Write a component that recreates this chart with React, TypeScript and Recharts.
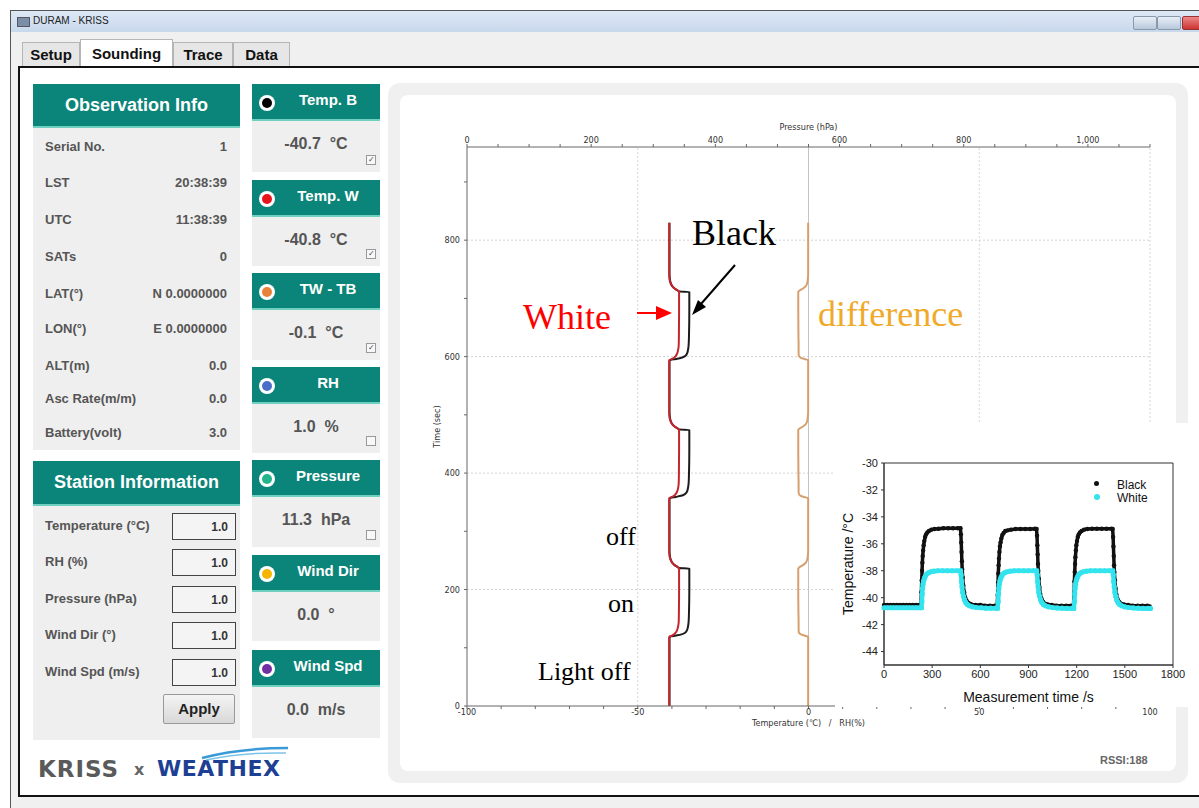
import React from 'react';
import {
  LineChart,
  Line,
  XAxis,
  YAxis,
  ReferenceLine,
  ScatterChart,
  Scatter,
  ReferenceArea,
} from 'recharts';

// ---- main sounding trace (time runs up the vertical axis) ----
const timeSec = [
  0,
  117, 119, 121, 123, 126, 130, 136, 145, 160, 200, 236, 237, 239, 242, 246, 251, 258, 268, 280,
  355, 357, 359, 361, 364, 368, 374, 383, 398, 440, 474, 475, 477, 480, 484, 489, 496, 506, 518,
  592, 594, 596, 598, 601, 605, 611, 620, 635, 680, 711, 712, 714, 717, 721, 726, 733, 743, 755,
  830,
];
const tempBlack = [
  -40.7,
  -40.7, -40.6, -38.8, -37.2, -36.1, -35.6, -35.3, -35.1, -35.0, -34.9, -34.9, -37.9, -38.4, -39.2, -39.9, -40.3, -40.6, -40.7, -40.7,
  -40.7, -40.6, -38.9, -37.3, -36.2, -35.6, -35.3, -35.1, -35.0, -34.9, -34.9, -37.9, -38.4, -39.2, -39.9, -40.3, -40.6, -40.7, -40.7,
  -40.7, -40.6, -38.8, -37.2, -36.1, -35.6, -35.3, -35.1, -35.0, -34.9, -34.9, -37.9, -38.4, -39.2, -39.9, -40.3, -40.6, -40.7, -40.7,
  -40.7,
];
const tempWhite = [
  -40.8,
  -40.8, -40.7, -40.0, -39.4, -38.9, -38.5, -38.2, -38.0, -37.95, -37.9, -37.9, -38.0, -38.4, -39.2, -39.9, -40.4, -40.7, -40.8, -40.8,
  -40.8, -40.7, -40.0, -39.4, -38.9, -38.5, -38.2, -38.0, -37.95, -37.9, -37.9, -38.0, -38.4, -39.2, -39.9, -40.4, -40.7, -40.8, -40.8,
  -40.8, -40.7, -40.0, -39.4, -38.9, -38.5, -38.2, -38.0, -37.95, -37.9, -37.9, -38.0, -38.4, -39.2, -39.9, -40.4, -40.7, -40.8, -40.8,
  -40.8,
];
const tempDiff = [
  -0.1,
  -0.1, -0.1, -1.2, -2.2, -2.8, -2.9, -2.9, -2.9, -2.95, -3.0, -3.0, -2.9, -2.5, -1.6, -0.8, -0.4, -0.2, -0.1, -0.1,
  -0.1, -0.1, -1.3, -2.3, -2.8, -2.9, -2.9, -2.9, -2.95, -3.0, -3.0, -2.9, -2.5, -1.6, -0.8, -0.4, -0.2, -0.1, -0.1,
  -0.1, -0.1, -1.2, -2.2, -2.8, -2.9, -2.9, -2.9, -2.95, -3.0, -3.0, -2.9, -2.5, -1.6, -0.8, -0.4, -0.2, -0.1, -0.1,
  -0.1,
];

const tempTicks = [-100, -90, -80, -70, -60, -50, -40, -30, -20, -10, 0, 10, 20, 30, 40, 50, 60, 70, 80, 90, 100];
const tempLabels = [-100, -50, 0, 50, 100];
const pressureTicks = [0, 50, 100, 150, 200, 250, 300, 350, 400, 450, 500, 550, 600, 650, 700, 750, 800, 850, 900, 950, 1000, 1050, 1100];
const pressureLabels = [0, 200, 400, 600, 800, 1000];
const timeTicks = [0, 100, 200, 300, 400, 500, 600, 700, 800, 900];
const timeLabels = [0, 200, 400, 600, 800];

// ---- inset: step response of the black / white sensors ----
const blackInset = [
  [0, -40.55], [20, -40.55], [40, -40.55], [60, -40.55], [80, -40.55], [100, -40.55], [120, -40.55], [140, -40.55],
  [160, -40.55], [180, -40.55], [200, -40.55], [220, -40.55], [230, -40.5],
  [233, -39.6], [235, -38.7], [237, -38.0], [239, -37.4], [241, -36.9], [244, -36.5], [247, -36.1], [251, -35.8],
  [256, -35.5], [262, -35.3], [270, -35.15], [280, -35.05], [295, -34.95], [315, -34.9], [340, -34.88], [370, -34.85],
  [400, -34.85], [430, -34.85], [460, -34.85], [476, -34.85],
  [479, -35.3], [481, -35.9], [483, -36.6], [485, -37.3], [487, -37.9], [490, -38.5], [494, -39.1], [499, -39.6],
  [506, -40.0], [515, -40.25], [527, -40.4], [545, -40.5], [570, -40.55], [600, -40.55], [630, -40.6], [660, -40.6],
  [690, -40.6], [705, -40.6],
  [708, -39.8], [710, -38.9], [712, -38.2], [714, -37.6], [716, -37.1], [719, -36.6], [722, -36.2], [726, -35.9],
  [731, -35.6], [737, -35.35], [745, -35.2], [755, -35.05], [770, -35.0], [790, -34.95], [820, -34.9], [850, -34.9],
  [880, -34.9], [910, -34.9], [940, -34.88], [950, -34.9],
  [953, -35.4], [955, -36.1], [957, -36.8], [959, -37.5], [961, -38.0], [964, -38.6], [968, -39.2], [973, -39.7],
  [980, -40.05], [990, -40.3], [1003, -40.45], [1020, -40.5], [1045, -40.55], [1075, -40.6], [1105, -40.6],
  [1135, -40.6], [1165, -40.6], [1180, -40.6],
  [1184, -39.7], [1186, -38.8], [1188, -38.1], [1190, -37.5], [1192, -37.0], [1195, -36.5], [1198, -36.1],
  [1202, -35.8], [1207, -35.5], [1213, -35.3], [1221, -35.15], [1231, -35.05], [1246, -34.95], [1266, -34.9],
  [1296, -34.88], [1326, -34.88], [1356, -34.88], [1386, -34.88], [1416, -34.88], [1424, -34.9],
  [1427, -35.5], [1429, -36.2], [1431, -36.9], [1433, -37.6], [1435, -38.1], [1438, -38.7], [1442, -39.3],
  [1447, -39.75], [1454, -40.1], [1464, -40.3], [1477, -40.45], [1495, -40.5], [1520, -40.55], [1550, -40.6],
  [1580, -40.6], [1610, -40.6], [1640, -40.6], [1655, -40.65],
];
const whiteInset = [
  [0, -40.75], [20, -40.75], [40, -40.75], [60, -40.75], [80, -40.75], [100, -40.75], [120, -40.75], [140, -40.75],
  [160, -40.75], [180, -40.75], [200, -40.75], [220, -40.75], [233, -40.75],
  [236, -40.3], [238, -39.7], [240, -39.3], [243, -39.0], [247, -38.75], [252, -38.55], [258, -38.4], [266, -38.25],
  [276, -38.15], [290, -38.08], [310, -38.03], [335, -38.0], [365, -38.0], [395, -38.0], [425, -38.0], [455, -38.0],
  [477, -38.0],
  [480, -38.3], [483, -38.8], [486, -39.2], [490, -39.6], [495, -39.9], [501, -40.15], [509, -40.35], [519, -40.5],
  [532, -40.6], [550, -40.68], [575, -40.73], [605, -40.75], [635, -40.78], [665, -40.78], [695, -40.78], [707, -40.78],
  [711, -40.3], [713, -39.7], [715, -39.3], [718, -39.0], [722, -38.75], [727, -38.55], [733, -38.4], [741, -38.25],
  [751, -38.15], [765, -38.08], [785, -38.03], [810, -38.0], [840, -38.0], [870, -38.0], [900, -38.0], [930, -38.0],
  [951, -38.0],
  [954, -38.3], [957, -38.8], [960, -39.2], [964, -39.6], [969, -39.9], [975, -40.15], [983, -40.35], [993, -40.5],
  [1006, -40.6], [1024, -40.68], [1049, -40.73], [1079, -40.76], [1109, -40.78], [1139, -40.8], [1169, -40.8], [1182, -40.8],
  [1186, -40.3], [1188, -39.7], [1190, -39.3], [1193, -39.0], [1197, -38.75], [1202, -38.55], [1208, -38.4],
  [1216, -38.25], [1226, -38.15], [1240, -38.08], [1260, -38.03], [1285, -38.0], [1315, -38.0], [1345, -38.0],
  [1375, -38.0], [1405, -38.0], [1425, -38.0],
  [1428, -38.3], [1431, -38.8], [1434, -39.2], [1438, -39.6], [1443, -39.9], [1449, -40.15], [1457, -40.35],
  [1467, -40.5], [1480, -40.6], [1498, -40.68], [1523, -40.73], [1553, -40.76], [1583, -40.78], [1613, -40.8],
  [1643, -40.8], [1660, -40.8],
];
const insetTimeTicks = [0, 300, 600, 900, 1200, 1500, 1800];
const insetTempTicks = [-44, -42, -40, -38, -36, -34, -32, -30];

const TEAL = '#0b8479';
const PANEL = '#efefef';
const CYAN = '#33e3ee';
const UI_FONT = "'Liberation Sans', Arial, sans-serif";
const NARROW = "'Liberation Sans Narrow', 'DejaVu Sans Condensed', sans-serif";
const SERIF = "'Liberation Serif', 'Times New Roman', serif";
const NB = '\u00a0';

const traceRows = timeSec.map((t, i) => ({
  t,
  black: tempBlack[i],
  white: tempWhite[i],
  diff: tempDiff[i],
}));
const blackPts = blackInset.map(([t, v]) => ({ t, v }));
const whitePts = whiteInset.map(([t, v]) => ({ t, v }));

const abs = (left: number, top: number, extra: React.CSSProperties = {}): React.CSSProperties => ({
  position: 'absolute',
  left,
  top,
  ...extra,
});

const obsRows = [
  ['Serial No.', '1', 147],
  ['LST', '20:38:39', 183],
  ['UTC', '11:38:39', 220],
  ['SATs', '0', 257],
  ['LAT(°)', 'N 0.0000000', 294],
  ['LON(°)', 'E 0.0000000', 329],
  ['ALT(m)', '0.0', 366],
  ['Asc Rate(m/m)', '0.0', 399],
  ['Battery(volt)', '3.0', 433],
] as const;

const sensorCards = [
  { name: 'Temp. B', dot: '#000', top: 84, bottom: 172, value: '-40.7', unit: '°C', box: true, checked: true },
  { name: 'Temp. W', dot: '#e8141c', top: 180, bottom: 266, value: '-40.8', unit: '°C', box: true, checked: true },
  { name: 'TW - TB', dot: '#e8823a', top: 273, bottom: 360, value: '-0.1', unit: '°C', box: true, checked: true },
  { name: 'RH', dot: '#4a6fc8', top: 367, bottom: 453, value: '1.0', unit: '%', box: true, checked: false },
  { name: 'Pressure', dot: '#22b58a', top: 460, bottom: 547, value: '11.3', unit: 'hPa', box: true, checked: false },
  { name: 'Wind Dir', dot: '#f5b400', top: 555, bottom: 641, value: '0.0', unit: '°', box: false, checked: false },
  { name: 'Wind Spd', dot: '#7030a0', top: 650, bottom: 738, value: '0.0', unit: 'm/s', box: false, checked: false },
];

const stationRows = [
  ['Temperature (°C)', 526],
  ['RH (%)', 562],
  ['Pressure (hPa)', 599],
  ['Wind Dir (°)', 635],
  ['Wind Spd (m/s)', 672],
] as const;

function Header({ left, top, width, height, text, size }: { left: number; top: number; width: number; height: number; text: string; size: number }) {
  return (
    <div
      style={abs(left, top, {
        width,
        height,
        background: TEAL,
        borderBottom: '2px solid #6fd0bf',
        color: '#fff',
        fontWeight: 700,
        fontSize: size,
        display: 'flex',
        alignItems: 'center',
        justifyContent: 'center',
        boxSizing: 'border-box',
      })}
    >
      {text}
    </div>
  );
}

function SensorCard({ c }: { c: (typeof sensorCards)[number] }) {
  const headH = 37;
  return (
    <>
      <div style={abs(252, c.top, { width: 128, height: c.bottom - c.top, background: PANEL })} />
      <div
        style={abs(252, c.top, {
          width: 128,
          height: headH,
          background: TEAL,
          borderBottom: '2px solid #6fd0bf',
          boxSizing: 'border-box',
        })}
      >
        <div
          style={abs(7, 11, {
            width: 16,
            height: 16,
            borderRadius: 8,
            background: '#fff',
            display: 'flex',
            alignItems: 'center',
            justifyContent: 'center',
          })}
        >
          <div style={{ width: 10, height: 10, borderRadius: 5, background: c.dot }} />
        </div>
        <div style={abs(28, 7, { width: 96, textAlign: 'center', color: '#fff', fontWeight: 700, fontSize: 15 })}>
          {c.name}
        </div>
      </div>
      <div
        style={abs(252, c.top + headH + 14, {
          width: 128,
          textAlign: 'center',
          color: '#555',
          fontWeight: 700,
          fontSize: 16,
          whiteSpace: 'pre',
        })}
      >
        {c.value + '  ' + c.unit}
      </div>
      {c.box && (
        <div
          style={abs(366, c.bottom - 17, {
            width: 8,
            height: 8,
            border: '1px solid #999',
            background: '#f8f8f8',
            fontSize: 8,
            lineHeight: '8px',
            textAlign: 'center',
            color: '#446',
          })}
        >
          {c.checked ? '✓' : ''}
        </div>
      )}
    </>
  );
}

export default function App() {
  const tickStyle = { fontSize: 9, fill: '#333', fontFamily: NARROW };
  const insetTick = { fontSize: 11, fill: '#222', fontFamily: UI_FONT };
  return (
    <div style={abs(0, 0, { width: 1199, height: 808, background: '#fff', overflow: 'hidden', fontFamily: UI_FONT })}>
      {/* window chrome */}
      <div style={abs(10, 10, { width: 1189, height: 798, background: '#f0f0f0', borderLeft: '1px solid #555', borderTop: '1px solid #555' })} />
      <div style={abs(11, 11, { width: 1188, height: 21, background: 'linear-gradient(#dde8f5, #c8d8ec)' })} />
      <div style={abs(17, 17, { width: 11, height: 8, background: '#7a8ea8', border: '1px solid #556' })} />
      <div style={abs(33, 15, { fontSize: 10, color: '#222' })}>DURAM - KRISS</div>
      <div style={abs(1133, 16, { width: 22, height: 12, background: 'linear-gradient(#e8eef6,#b8c8dc)', border: '1px solid #8899aa', borderRadius: 2 })} />
      <div style={abs(1157, 16, { width: 22, height: 12, background: 'linear-gradient(#e8eef6,#b8c8dc)', border: '1px solid #8899aa', borderRadius: 2 })} />
      <div style={abs(1182, 16, { width: 22, height: 12, background: 'linear-gradient(#e88,#c33)', border: '1px solid #933', borderRadius: 2 })} />

      {/* tabs */}
      {[
        ['Setup', 22, 58, false],
        ['Sounding', 80, 93, true],
        ['Trace', 173, 60, false],
        ['Data', 233, 57, false],
      ].map(([label, x, w, sel]) => (
        <div
          key={label as string}
          style={abs(x as number, sel ? 39 : 42, {
            width: w as number,
            height: sel ? 28 : 25,
            background: sel ? '#fff' : '#e6e6e6',
            border: '1px solid #b5b5b5',
            borderBottom: 'none',
            boxSizing: 'border-box',
            fontWeight: 700,
            fontSize: 15,
            color: '#111',
            textAlign: 'center',
            paddingTop: sel ? 5 : 3,
          })}
        >
          {label as string}
        </div>
      ))}

      {/* content frame */}
      <div style={abs(18, 66, { width: 1190, height: 731, background: '#fff', border: '2px solid #111', boxSizing: 'border-box' })} />

      {/* observation info */}
      <div style={abs(33, 84, { width: 207, height: 366, background: PANEL })} />
      <Header left={33} top={84} width={207} height={44} text="Observation Info" size={18} />
      {obsRows.map(([label, value, y]) => (
        <React.Fragment key={label}>
          <div style={abs(45, y - 8, { fontSize: 13, fontWeight: 700, color: '#555' })}>{label}</div>
          <div style={abs(120, y - 8, { width: 107, textAlign: 'right', fontSize: 13, fontWeight: 700, color: '#555' })}>{value}</div>
        </React.Fragment>
      ))}

      {/* station information */}
      <div style={abs(33, 461, { width: 207, height: 279, background: PANEL })} />
      <Header left={33} top={461} width={207} height={45} text="Station Information" size={18} />
      {stationRows.map(([label, y]) => (
        <React.Fragment key={label}>
          <div style={abs(45, y - 8, { fontSize: 13, fontWeight: 700, color: '#555' })}>{label}</div>
          <div
            style={abs(172, y - 13, {
              width: 64,
              height: 27,
              background: '#f4f4f4',
              border: '1px solid #444',
              boxSizing: 'border-box',
              fontSize: 12,
              fontWeight: 700,
              color: '#333',
              textAlign: 'right',
              padding: '6px 7px 0 0',
            })}
          >
            1.0
          </div>
        </React.Fragment>
      ))}
      <div
        style={abs(163, 694, {
          width: 72,
          height: 30,
          background: 'linear-gradient(#f4f4f4, #d8d8d8)',
          border: '1px solid #999',
          borderRadius: 2,
          boxSizing: 'border-box',
          fontSize: 15,
          fontWeight: 700,
          color: '#222',
          textAlign: 'center',
          paddingTop: 5,
        })}
      >
        Apply
      </div>

      {sensorCards.map((c) => (
        <SensorCard key={c.name} c={c} />
      ))}

      {/* logo */}
      <div style={abs(38, 756, { fontSize: 23, fontWeight: 900, color: '#5a5a5a', letterSpacing: 1, fontFamily: "'DejaVu Sans', sans-serif" })}>
        KRISS
      </div>
      <div style={abs(134, 760, { fontSize: 16, fontWeight: 700, color: '#666', fontFamily: "'DejaVu Sans', sans-serif" })}>x</div>
      <div style={abs(157, 756, { fontSize: 22, fontWeight: 900, color: '#1d3f94', letterSpacing: 0.5, fontFamily: "'DejaVu Sans', sans-serif" })}>
        WEATHEX
      </div>
      <svg style={abs(200, 746, { overflow: 'visible' })} width={90} height={14}>
        <path d="M2 12 Q40 2 88 2" stroke="#3a9ad8" strokeWidth={2.5} fill="none" />
        <path d="M6 14 Q44 6 86 7" stroke="#7cc4ea" strokeWidth={1.5} fill="none" />
      </svg>

      {/* chart panel */}
      <div style={abs(388, 83, { width: 800, height: 700, background: '#f0f0f0', borderRadius: 12 })} />
      <div style={abs(400, 95, { width: 776, height: 676, background: '#fff', borderRadius: 8 })} />
      <div style={abs(1100, 754, { fontSize: 11, fontWeight: 700, color: '#666' })}>RSSI:188</div>

      <div style={abs(400, 95)}>
        <LineChart
          width={776}
          height={676}
          data={traceRows}
          layout="vertical"
          margin={{ top: 22, right: 26, bottom: 35, left: 0 }}
        >
          <XAxis
            xAxisId="press"
            orientation="top"
            type="number"
            domain={[0, 1100]}
            allowDataOverflow
            ticks={pressureTicks}
            interval={0}
            tickFormatter={(v: number) => (pressureLabels.includes(v) ? v.toLocaleString('en-US') : '')}
            tick={tickStyle}
            tickSize={3}
            tickMargin={1}
            height={30}
            stroke="#666"
            label={{ value: 'Pressure (hPa)', position: 'insideTop', offset: 7, fontSize: 9, fill: '#333', fontFamily: NARROW }}
          />
          <XAxis
            xAxisId="temp"
            type="number"
            domain={[-100, 100]}
            allowDataOverflow
            ticks={tempTicks}
            interval={0}
            tickFormatter={(v: number) => (tempLabels.includes(v) ? String(v) : '')}
            tick={tickStyle}
            tickSize={3}
            tickMargin={0}
            height={30}
            stroke="#666"
            label={{
              value: `Temperature (℃)${NB}${NB}${NB}/${NB}${NB}${NB}RH(%)`,
              position: 'insideTop',
              offset: 14,
              fontSize: 9,
              fill: '#333',
              fontFamily: NARROW,
            }}
          />
          <YAxis
            type="number"
            dataKey="t"
            domain={[0, 960]}
            allowDataOverflow
            reversed
            ticks={timeTicks}
            interval={0}
            tickFormatter={(v: number) => (timeLabels.includes(v) ? String(v) : '')}
            tick={tickStyle}
            tickSize={3}
            tickMargin={4}
            width={67}
            stroke="#666"
            label={{ value: 'Time (sec)', angle: -90, position: 'insideLeft', offset: 37, fontSize: 9, fill: '#333', fontFamily: NARROW, style: { textAnchor: 'middle' } }}
          />
          {[-50, 50, 100].map((v) => (
            <ReferenceLine key={'x' + v} xAxisId="temp" x={v} stroke="#d4d4d4" strokeDasharray="2 2" />
          ))}
          {[200, 400, 600, 800].map((v) => (
            <ReferenceLine key={'y' + v} xAxisId="temp" y={v} stroke="#d4d4d4" strokeDasharray="2 2" />
          ))}
          <ReferenceLine xAxisId="temp" x={0} stroke="#c4c4c4" />
          <Line xAxisId="temp" dataKey="diff" type="monotone" stroke="#d6a06e" strokeWidth={2} dot={false} isAnimationActive={false} />
          <Line xAxisId="temp" dataKey="black" type="monotone" stroke="#1c1c1c" strokeWidth={2} dot={false} isAnimationActive={false} />
          <Line xAxisId="temp" dataKey="white" type="monotone" stroke="#c4262e" strokeWidth={2} dot={false} isAnimationActive={false} />
        </LineChart>
      </div>

      {/* annotations on the trace */}
      <svg style={abs(0, 0, { pointerEvents: 'none' })} width={1199} height={808}>
        <g fontFamily={SERIF}>
          <text x={692} y={245} fontSize={36} fill="#000">Black</text>
          <text x={523} y={329} fontSize={36} fill="#ff0000">White</text>
          <text x={818} y={326} fontSize={36} fill="#f0aa2a">difference</text>
          <text x={606} y={545} fontSize={26} fill="#000">off</text>
          <text x={608} y={612} fontSize={26} fill="#000">on</text>
          <text x={538} y={680} fontSize={26} fill="#000">Light off</text>
        </g>
        <line x1={637} y1={313} x2={658} y2={313} stroke="#ff0000" strokeWidth={2} />
        <polygon points="656,306 672,313 656,320" fill="#ff0000" />
        <line x1={735} y1={265} x2={701} y2={304} stroke="#000" strokeWidth={2} />
        <polygon points="692,315 698,300 706,307" fill="#000" />
      </svg>

      {/* inset figure */}
      <div style={abs(835, 423, { width: 364, height: 284, background: '#fff' })}>
        <ScatterChart width={364} height={284} margin={{ top: 40, right: 26, bottom: 0, left: 0 }}>
          <XAxis
            type="number"
            dataKey="t"
            domain={[0, 1800]}
            ticks={insetTimeTicks}
            interval={0}
            tick={insetTick}
            tickSize={3}
            tickMargin={2}
            height={42}
            stroke="#333"
            label={{ value: 'Measurement time /s', position: 'insideBottom', offset: 5, fontSize: 14, fill: '#111', fontFamily: UI_FONT }}
          />
          <YAxis
            type="number"
            dataKey="v"
            domain={[-45, -30]}
            ticks={insetTempTicks}
            interval={0}
            tick={insetTick}
            tickSize={3}
            tickMargin={3}
            width={49}
            stroke="#333"
            label={{ value: 'Temperature /°C', angle: -90, position: 'insideLeft', offset: 13, fontSize: 14, fill: '#111', fontFamily: UI_FONT, style: { textAnchor: 'middle' } }}
          />
          <ReferenceArea x1={0} x2={1800} y1={-45} y2={-30} fill="none" stroke="#333" strokeWidth={1} ifOverflow="visible" />
          <Scatter
            name="Black"
            data={blackPts}
            fill="#111"
            line={{ stroke: '#111', strokeWidth: 3.5 }}
            shape={(p: any) => <circle cx={p.cx} cy={p.cy} r={2.2} fill="#111" />}
            isAnimationActive={false}
          />
          <Scatter
            name="White"
            data={whitePts}
            fill={CYAN}
            line={{ stroke: CYAN, strokeWidth: 4.5 }}
            shape={(p: any) => <circle cx={p.cx} cy={p.cy} r={2.6} fill={CYAN} />}
            isAnimationActive={false}
          />
        </ScatterChart>
        <div style={abs(259, 58, { width: 5, height: 5, borderRadius: 3, background: '#111' })} />
        <div style={abs(282, 55, { fontSize: 12, color: '#111' })}>Black</div>
        <div style={abs(259, 71, { width: 6, height: 6, borderRadius: 3, background: CYAN })} />
        <div style={abs(282, 68, { fontSize: 12, color: '#111' })}>White</div>
      </div>
    </div>
  );
}
